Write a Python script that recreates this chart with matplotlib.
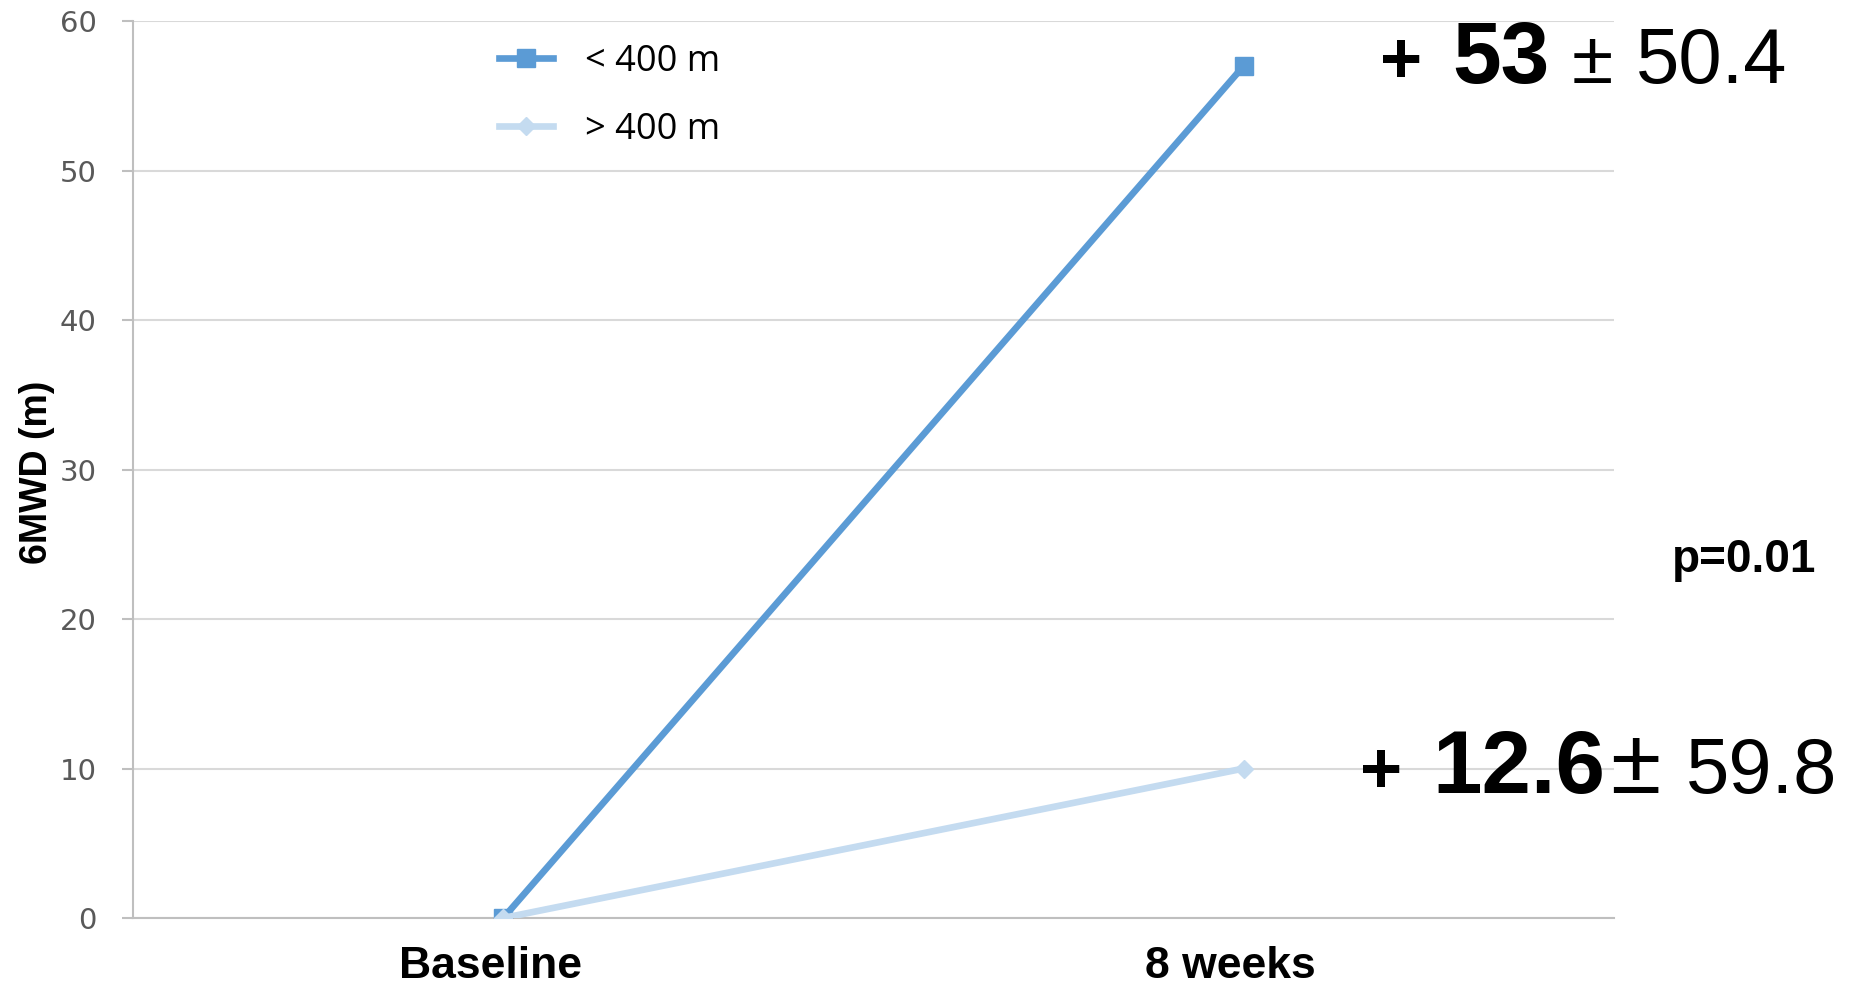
import matplotlib
matplotlib.use('Agg')
import matplotlib.pyplot as plt
from matplotlib.transforms import ScaledTranslation

# data
categories = ['Baseline', '8 weeks']
below_400 = [0, 57]
above_400 = [0, 10]
series_labels = ['< 400 m', '> 400 m']
y_ticks = [0, 10, 20, 30, 40, 50, 60]

W, H = 1850, 998
fig = plt.figure(figsize=(W / 100, H / 100), dpi=100)
ax = fig.add_axes([133 / W, 1 - 918 / H, (1614 - 133) / W, (918 - 21) / H])

dark = '#5B9BD5'
light = '#C4DBF0'

x = list(range(len(categories)))
ax.plot(x, below_400, color=dark, lw=4.8, marker='s', ms=13, label=series_labels[0], zorder=3)
ax.plot(x, above_400, color=light, lw=4.8, marker='D', ms=9, label=series_labels[1], zorder=4)

ax.set_xlim(-0.5, 1.5)
ax.set_ylim(0, 60)
ax.set_yticks(y_ticks)
ax.set_xticks(x)
ax.tick_params(axis='x', length=0, pad=20)
ax.tick_params(axis='y', length=8, width=1.5, color='#BFBFBF', pad=18,
               labelsize=21, labelcolor='#595959')
ax.set_xticklabels(categories, fontsize=32, fontweight='bold', family='Liberation Sans')
shift = ScaledTranslation(-13 / 100, 0, fig.dpi_scale_trans)
for lab in ax.get_xticklabels():
    lab.set_transform(lab.get_transform() + shift)
for lab in ax.get_yticklabels():
    lab.set_family('DejaVu Sans')

ax.grid(axis='y', color='#D9D9D9', lw=1.5, zorder=0)
ax.set_axisbelow(True)
for s in ['top', 'right']:
    ax.spines[s].set_visible(False)
ax.spines['left'].set_color('#BFBFBF')
ax.spines['left'].set_linewidth(1.5)
ax.spines['bottom'].set_color('#BFBFBF')
ax.spines['bottom'].set_linewidth(1.5)

# y axis title
fig.text(37 / W, 1 - 472 / H, '6MWD (m)', rotation=90, fontsize=27, fontweight='bold',
         family='Liberation Sans', ha='center', va='center')

leg = ax.legend(loc='upper left', bbox_to_anchor=(333 / (1614 - 133), 1.011),
                frameon=False, handlelength=1.5, labelspacing=0.9, handletextpad=0.9,
                prop={'family': 'Open Sans', 'size': 26})


def put(px, py, s, size, bold):
    fig.text(px / W, 1 - py / H, s, fontsize=size, ha='left', va='baseline',
             fontweight='bold' if bold else 'normal', family='Liberation Sans')


# annotations (pixel positions on the figure)
put(1380, 83, '+', 52, True)
put(1452, 83, '53', 63, True)
put(1572, 83, '±', 54, False)
put(1636, 83, '50.4', 56, False)

put(1360, 793, '+', 52, True)
put(1432, 793, '12.6', 64, True)
put(1610, 793, '±', 66, False)
put(1686, 793, '59.8', 56, False)

put(1672, 572, 'p=0.01', 33, True)

fig.savefig('out.png', dpi=100, facecolor='white')
